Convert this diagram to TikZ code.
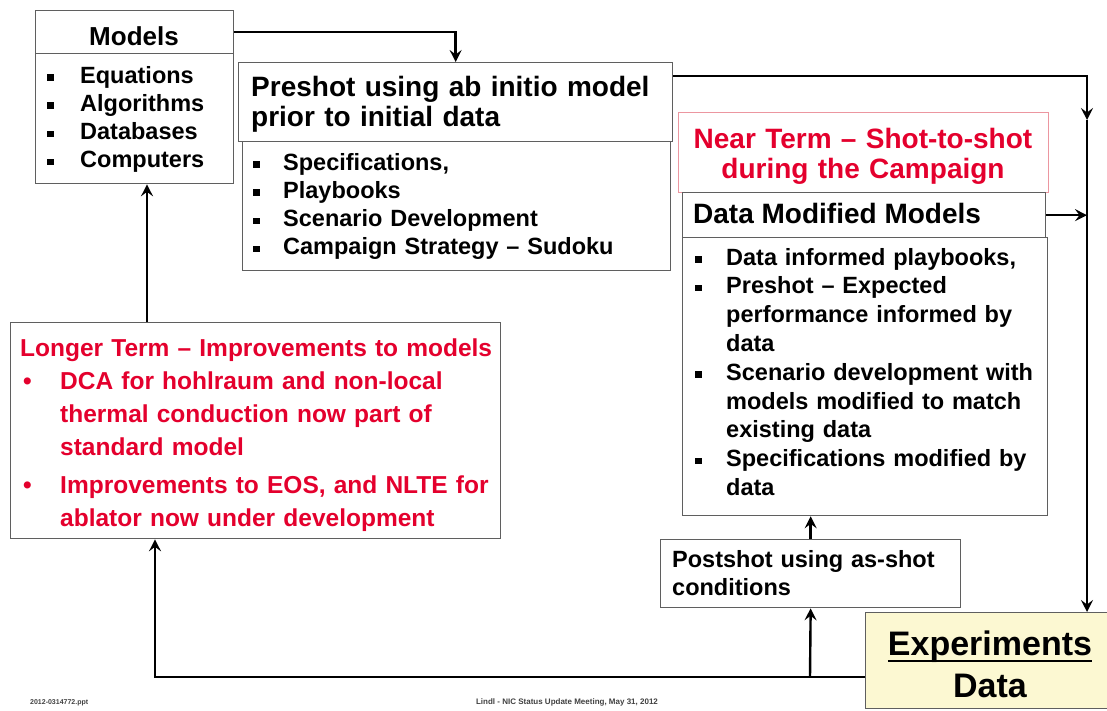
\documentclass[tikz,border=0pt]{standalone}
\usepackage{fontspec}
\setmainfont{Liberation Sans}
\usetikzlibrary{arrows.meta,calc}

\definecolor{termred}{RGB}{228,0,45}
\definecolor{boxgray}{RGB}{95,95,95}
\definecolor{expfill}{RGB}{252,248,210}
\definecolor{pinkline}{RGB}{236,150,160}

% square bullet and a hanging-indent list item (items are separated by \par)
\newcommand\sqb{\rule[2.5pt]{6.5pt}{6.5pt}}
\newcommand\bitem[2]{\hangindent=#1\hangafter=1\noindent\makebox[#1][l]{#2}}

\begin{document}
\begin{tikzpicture}[x=1pt,y=-1pt,
  box/.style={draw=boxgray,line width=1.3pt,fill=white,inner sep=0pt,anchor=north west},
  txt/.style={inner sep=0pt,anchor=base west,align=left},
  head/.style={font=\bfseries\fontsize{28}{30.5}\selectfont},
  list/.style={font=\bfseries\fontsize{23.5}{28.3}\selectfont},
  link/.style={draw=black,line width=2.4pt},
  arr/.style={link,-{Stealth[length=12pt,width=12pt,inset=4.5pt]}}]

\useasboundingbox (0,0) rectangle (1107,710);

% ---- Models ----
\node[box,minimum width=198,minimum height=130] (mbody) at (35,53) {};
\node[box,minimum width=198,minimum height=43] (mhead) at (35,10) {};
\node[inner sep=0pt,anchor=base,font=\bfseries\fontsize{26}{30}\selectfont] (mtitle) at (134,45) {Models};
\node[txt,list,text width=180] (mlist) at (47,83) {%
  \bitem{33pt}{\sqb}Equations\par
  \bitem{33pt}{\sqb}Algorithms\par
  \bitem{33pt}{\sqb}Databases\par
  \bitem{33pt}{\sqb}Computers\par};

% ---- Preshot ----
\node[box,minimum width=428,minimum height=129] (pbody) at (242,141) {};
\node[box,minimum width=434,minimum height=79] (phead) at (238,62) {};
\node[txt,head,text width=420] (ptitle) at (251,96) {Preshot using ab initio model\newline prior to initial data};
\node[txt,list,text width=400] (plist) at (253,170) {%
  \bitem{30pt}{\sqb}Specifications,\par
  \bitem{30pt}{\sqb}Playbooks\par
  \bitem{30pt}{\sqb}Scenario Development\par
  \bitem{30pt}{\sqb}Campaign Strategy – Sudoku\par};

% ---- Near term ----
\node[box,draw=pinkline,line width=1pt,minimum width=370,minimum height=80] (near) at (678,112) {};
\node[inner sep=0pt,anchor=base,head,text=termred,text width=370,align=center] (ntitle) at (863,148)
  {Near Term – Shot-to-shot\\during the Campaign};

% ---- Data modified models ----
\node[box,minimum width=365,minimum height=278] (dbody) at (682,237) {};
\node[box,minimum width=363,minimum height=45] (dhead) at (682,192) {};
\node[txt,head] (dtitle) at (693,223) {Data Modified Models};
\node[txt,list,text width=345,font=\bfseries\fontsize{23.5}{28.8}\selectfont] (dlist) at (695,265) {%
  \bitem{31pt}{\sqb}Data informed playbooks,\par
  \bitem{31pt}{\sqb}Preshot – Expected\newline performance informed by\newline data\par
  \bitem{31pt}{\sqb}Scenario development with\newline models modified to match\newline existing data\par
  \bitem{31pt}{\sqb}Specifications modified by\newline data\par};

% ---- Longer term ----
\node[box,minimum width=490,minimum height=216] (longer) at (10,322) {};
\node[txt,text width=485,text=termred,font=\bfseries\fontsize{24.5}{33}\selectfont] (ltext) at (20,356) {%
  Longer Term – Improvements to models\par
  \bitem{40pt}{\hspace{3pt}•}DCA for hohlraum and non-local\newline thermal conduction now part of\newline standard model\par
  \vspace{5pt}%
  \bitem{40pt}{\hspace{3pt}•}Improvements to EOS, and NLTE for\newline ablator now under development\par};

% ---- Postshot ----
\node[box,minimum width=300,minimum height=68] (post) at (660,539) {};
\node[txt,list,text width=290] (ptext) at (672,567) {Postshot using as-shot\newline conditions};

% ---- Experiments ----
\node[box,fill=expfill,minimum width=250,minimum height=96] (exp) at (865,612) {};
\node[inner sep=0pt,anchor=base,font=\bfseries\fontsize{34}{40}\selectfont] (etitle) at (990,655) {Experiments};
\draw[line width=1.8pt] ($(etitle.base west)+(0,6)$) -- ($(etitle.base east)+(0,6)$);
\node[inner sep=0pt,anchor=base,font=\bfseries\fontsize{34}{40}\selectfont] (edata) at (990,697) {Data};

% ---- connectors ----
\coordinate (railtop) at (1087,76);
\coordinate (railmid) at (1087,120);
\coordinate (botleft) at (155,677);
\coordinate (botfork) at (810,677);
\coordinate (upx) at (147,322);

\draw[arr] (mhead.east) -| (phead.north);
\draw[arr] (phead.east |- railtop) -- (railtop) -- (railmid);
\draw[arr] (railmid) -- (exp.north -| railtop);
\draw[arr] (dhead.east) -- (dhead.east -| railtop);
\draw[arr] (exp.west |- botleft) -- (botleft) -- (longer.south -| botleft);
\draw[arr] (botfork) -- (post.south);
\draw[arr] (post.north) -- (dbody.south -| post.north);
\draw[arr] (upx) -- (mbody.south -| upx);

% ---- footer ----
\node[inner sep=0pt,anchor=base west,text=black!75,font=\bfseries\fontsize{7}{8}\selectfont] (fleft) at (30,704) {2012-0314772.ppt};
\node[inner sep=0pt,anchor=base,text=black!75,font=\bfseries\fontsize{8}{9}\selectfont] (fmid) at (567,704) {Lindl - NIC Status Update Meeting, May 31, 2012};
\end{tikzpicture}
\end{document}
